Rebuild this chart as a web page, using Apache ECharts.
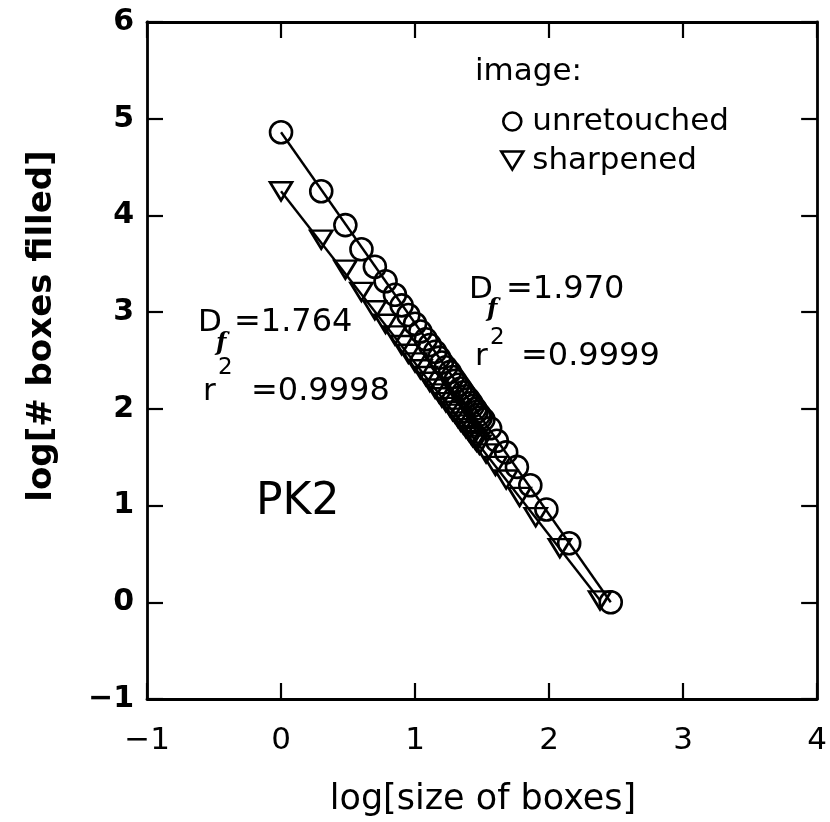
<!DOCTYPE html>
<html><head><meta charset="utf-8">
<script src="https://cdn.jsdelivr.net/npm/echarts@6/dist/echarts.min.js"></script>
<style>html,body{margin:0;padding:0;background:#fff}#c{width:830px;height:822px}</style>
</head><body><div id="c"></div>
<script>
// ---- data ----
const xTicks = [-1, 0, 1, 2, 3, 4];
const yTicks = [-1, 0, 1, 2, 3, 4, 5, 6];

const unretLogSize = [0, 0.30, 0.48, 0.60, 0.70, 0.78, 0.85, 0.90, 0.95, 1.00, 1.04, 1.08, 1.11, 1.15, 1.18, 1.20, 1.23, 1.26, 1.28, 1.30, 1.32, 1.34, 1.36, 1.38, 1.40, 1.42, 1.43, 1.45, 1.46, 1.48, 1.49, 1.51, 1.56, 1.61, 1.68, 1.76, 1.86, 1.98, 2.15, 2.46];
const unretLogCount = [4.86, 4.25, 3.90, 3.65, 3.47, 3.32, 3.18, 3.07, 2.97, 2.88, 2.80, 2.72, 2.66, 2.59, 2.53, 2.48, 2.43, 2.38, 2.33, 2.29, 2.25, 2.21, 2.17, 2.13, 2.10, 2.06, 2.03, 2.00, 1.97, 1.94, 1.91, 1.89, 1.80, 1.67, 1.55, 1.40, 1.21, 0.96, 0.61, 0.00];

const sharpLogSize = [0, 0.30, 0.48, 0.60, 0.70, 0.78, 0.85, 0.90, 0.95, 1.00, 1.04, 1.08, 1.11, 1.15, 1.18, 1.20, 1.23, 1.26, 1.28, 1.30, 1.32, 1.34, 1.36, 1.38, 1.40, 1.42, 1.43, 1.45, 1.46, 1.48, 1.53, 1.60, 1.68, 1.78, 1.90, 2.08, 2.38];
const sharpLogCount = [4.25, 3.75, 3.44, 3.21, 3.02, 2.88, 2.76, 2.66, 2.57, 2.48, 2.41, 2.34, 2.28, 2.21, 2.16, 2.12, 2.07, 2.02, 1.98, 1.95, 1.91, 1.87, 1.84, 1.80, 1.77, 1.73, 1.71, 1.68, 1.66, 1.63, 1.54, 1.41, 1.27, 1.09, 0.88, 0.56, 0.02];

const unretFitX = [0, 2.46];
const unretFitY = [4.86, 0.00];
const sharpFitX = [0, 2.38];
const sharpFitY = [4.25, 0.02];

const seriesNames = ['unretouched', 'sharpened'];
// ---------------------------------------

const zip = (a, b) => a.map((v, i) => [v, b[i]]);
const FONT = 'DejaVu Sans';
const triPath = 'path://M0,0L22,0L11,18Z';
const hollow = { color: 'rgba(255,255,255,0)', borderColor: '#000', borderWidth: 2.6, opacity: 1 };
const fmt = v => v < 0 ? '\u2212' + Math.abs(v) : String(v);

const axisCommon = {
  type: 'value', interval: 1,
  axisLine: { show: true, onZero: false, lineStyle: { color: '#000', width: 2.8 } },
  axisTick: { show: true, inside: true, length: 16, lineStyle: { color: '#000', width: 2.2 } },
  splitLine: { show: false }
};

const chart = echarts.init(document.getElementById('c'), null, { renderer: 'canvas' });
chart.setOption({
  backgroundColor: '#fff',
  animation: false,
  grid: { left: 147, right: 10, top: 22, bottom: 123, containLabel: false },
  xAxis: [
    Object.assign({}, axisCommon, { position: 'bottom', min: xTicks[0], max: xTicks[xTicks.length - 1],
      axisLabel: { show: true, margin: 26, fontFamily: FONT, fontSize: 31, color: '#000', formatter: fmt } }),
    Object.assign({}, axisCommon, { position: 'top', min: xTicks[0], max: xTicks[xTicks.length - 1],
      axisLabel: { show: false } })
  ],
  yAxis: [
    Object.assign({}, axisCommon, { position: 'left', min: yTicks[0], max: yTicks[yTicks.length - 1],
      axisLabel: { show: true, margin: 13, fontFamily: FONT, fontSize: 30, fontWeight: 'bold', color: '#000', formatter: fmt } }),
    Object.assign({}, axisCommon, { position: 'right', min: yTicks[0], max: yTicks[yTicks.length - 1],
      axisLabel: { show: false } })
  ],
  legend: {
    orient: 'vertical', left: 495, top: 101,
    itemWidth: 30, itemHeight: 18, itemGap: 8,
    textStyle: { fontFamily: FONT, fontSize: 31, color: '#000', lineHeight: 30 },
    data: [
      { name: seriesNames[0], icon: 'circle', itemStyle: hollow },
      { name: seriesNames[1], icon: triPath, itemStyle: hollow }
    ]
  },
  series: [
    { name: seriesNames[0] + ' fit', type: 'line', data: zip(unretFitX, unretFitY), showSymbol: false, silent: true,
      lineStyle: { color: '#000', width: 2.4 }, z: 1 },
    { name: seriesNames[1] + ' fit', type: 'line', data: zip(sharpFitX, sharpFitY), showSymbol: false, silent: true,
      lineStyle: { color: '#000', width: 2.4 }, z: 1 },
    { name: seriesNames[0], type: 'scatter', data: zip(unretLogSize, unretLogCount), symbol: 'circle', symbolSize: 22,
      itemStyle: hollow, z: 2 },
    { name: seriesNames[1], type: 'scatter', data: zip(sharpLogSize, sharpLogCount), symbol: triPath, symbolSize: [22, 18],
      itemStyle: hollow, z: 2 }
  ],
  graphic: [
    { type: 'text', left: 475, top: 56, style: { text: 'image:', font: '31px "DejaVu Sans"', fill: '#000' } },
    { type: 'text', x: 42, y: 326, rotation: Math.PI / 2,
      style: { text: 'log[# boxes filled]', font: 'bold 34px "DejaVu Sans"', fill: '#000', align: 'center', verticalAlign: 'middle' } },
    { type: 'text', x: 483, y: 800,
      style: { text: 'log[size of boxes]', font: '35px "DejaVu Sans"', fill: '#000', align: 'center', verticalAlign: 'middle' } },
    { type: 'text', x: 256, y: 503,
      style: { text: 'PK2', font: '44px "DejaVu Sans"', fill: '#000', align: 'left', verticalAlign: 'middle' } },
    // sharpened annotation
    { type: 'text', x: 198, y: 323, style: { text: 'D', font: '31px "DejaVu Sans"', fill: '#000', verticalAlign: 'middle' } },
    { type: 'text', x: 216, y: 344, style: { text: 'f', font: 'italic bold 24px "DejaVu Serif"', fill: '#000', verticalAlign: 'middle' } },
    { type: 'text', x: 234, y: 323, style: { text: '=1.764', font: '32px "DejaVu Sans"', fill: '#000', verticalAlign: 'middle' } },
    { type: 'text', x: 203, y: 392, style: { text: 'r', font: '31px "DejaVu Sans"', fill: '#000', verticalAlign: 'middle' } },
    { type: 'text', x: 218, y: 368, style: { text: '2', font: '23px "DejaVu Sans"', fill: '#000', verticalAlign: 'middle' } },
    { type: 'text', x: 251, y: 392, style: { text: '=0.9998', font: '32px "DejaVu Sans"', fill: '#000', verticalAlign: 'middle' } },
    // unretouched annotation
    { type: 'text', x: 469, y: 290, style: { text: 'D', font: '31px "DejaVu Sans"', fill: '#000', verticalAlign: 'middle' } },
    { type: 'text', x: 487, y: 310, style: { text: 'f', font: 'italic bold 24px "DejaVu Serif"', fill: '#000', verticalAlign: 'middle' } },
    { type: 'text', x: 506, y: 290, style: { text: '=1.970', font: '32px "DejaVu Sans"', fill: '#000', verticalAlign: 'middle' } },
    { type: 'text', x: 475, y: 357, style: { text: 'r', font: '31px "DejaVu Sans"', fill: '#000', verticalAlign: 'middle' } },
    { type: 'text', x: 490, y: 338, style: { text: '2', font: '23px "DejaVu Sans"', fill: '#000', verticalAlign: 'middle' } },
    { type: 'text', x: 521, y: 357, style: { text: '=0.9999', font: '32px "DejaVu Sans"', fill: '#000', verticalAlign: 'middle' } }
  ]
});
</script>
</body></html>
